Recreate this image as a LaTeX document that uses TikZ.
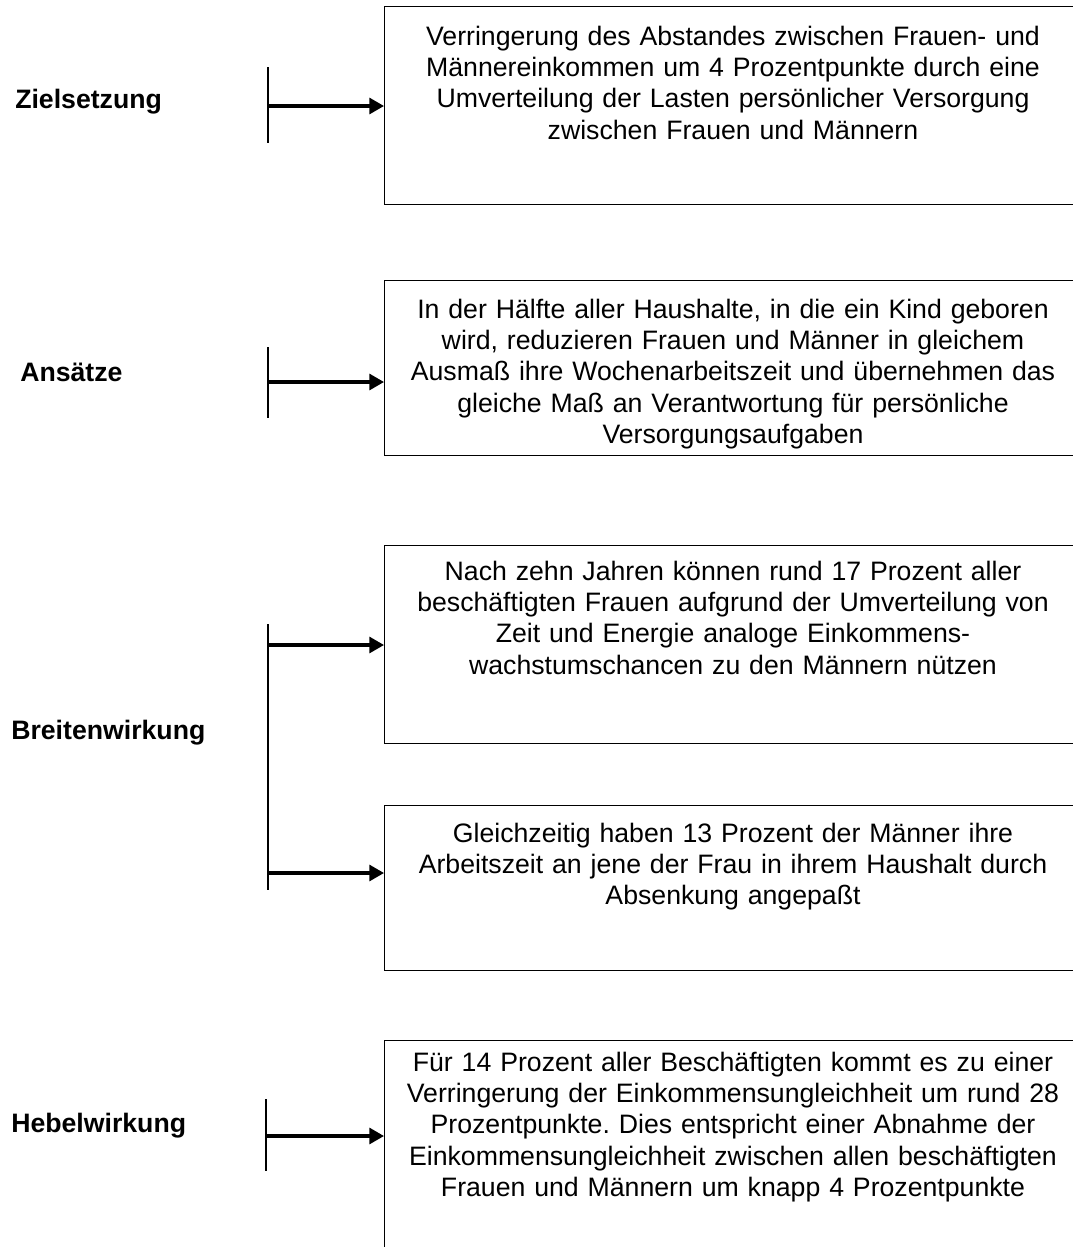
\documentclass[tikz,border=0pt]{standalone}
\usepackage{fontspec}
\setmainfont{Liberation Sans}
\usetikzlibrary{arrows.meta}
\frenchspacing
\begin{document}
\begin{tikzpicture}[x=0.75pt,y=-0.75pt,
  box/.style={draw, line width=1pt, rectangle, inner sep=0pt, anchor=north west, minimum width=530pt},
  txt/.style={align=center, text width=510pt, inner sep=0pt, anchor=base,
    font=\fontsize{20}{23.5}\selectfont},
  lbl/.style={font=\bfseries\fontsize{20}{24}\selectfont, anchor=base west, inner sep=0pt},
  tickline/.style={line width=1.3pt},
  conn/.style={line width=2.3pt, -{Triangle[length=11pt,width=12pt]}}]
\useasboundingbox (0,0) rectangle (1073,1247);
\clip (0,0) rectangle (1073,1247);

% boxes
\node[box, minimum height=148.5pt] (b1) at (384,6) {};
\node[box, minimum height=131.25pt] (b2) at (384,280) {};
\node[box, minimum height=148.5pt] (b3) at (384,545) {};
\node[box, minimum height=123.75pt] (b4) at (384,805) {};
\node[box, minimum height=200pt] (b5) at (384,1040) {};

% box texts
\node[txt] (t1) at (733,45) {Verringerung des Abstandes zwischen Frauen- und\\Männereinkommen um 4 Prozentpunkte durch eine\\Umverteilung der Lasten persönlicher Versorgung\\zwischen Frauen und Männern};
\node[txt] (t2) at (733,318) {In der Hälfte aller Haushalte, in die ein Kind geboren\\wird, reduzieren Frauen und Männer in gleichem\\Ausmaß ihre Wochenarbeitszeit und übernehmen das\\gleiche Maß an Verantwortung für persönliche\\Versorgungsaufgaben};
\node[txt] (t3) at (733,580) {Nach zehn Jahren können rund 17 Prozent aller\\beschäftigten Frauen aufgrund der Umverteilung von\\Zeit und Energie analoge Einkommens-\\wachstumschancen zu den Männern nützen};
\node[txt] (t4) at (733,842) {Gleichzeitig haben 13 Prozent der Männer ihre\\Arbeitszeit an jene der Frau in ihrem Haushalt durch\\Absenkung angepaßt};
\node[txt] (t5) at (733,1071) {Für 14 Prozent aller Beschäftigten kommt es zu einer\\Verringerung der Einkommensungleichheit um rund 28\\Prozentpunkte. Dies entspricht einer Abnahme der\\Einkommensungleichheit zwischen allen beschäftigten\\Frauen und Männern um knapp 4 Prozentpunkte};

% labels
\node[lbl] (l1) at (15,108) {Zielsetzung};
\node[lbl] (l2) at (20,381) {Ansätze};
\node[lbl] (l3) at (11,739) {Breitenwirkung};
\node[lbl] (l4) at (11,1132) {Hebelwirkung};

% ticks
\coordinate (k1a) at (268,67);  \coordinate (k1b) at (268,143); \coordinate (a1) at (268,106);
\coordinate (k2a) at (268,347); \coordinate (k2b) at (268,418); \coordinate (a2) at (268,382);
\coordinate (k3a) at (268,624); \coordinate (k3b) at (268,890);
\coordinate (a3) at (268,645);  \coordinate (a4) at (268,873);
\coordinate (k4a) at (266,1099); \coordinate (k4b) at (266,1171); \coordinate (a5) at (266,1136);

\draw[tickline] (k1a) -- (k1b);
\draw[tickline] (k2a) -- (k2b);
\draw[tickline] (k3a) -- (k3b);
\draw[tickline] (k4a) -- (k4b);

\draw[conn] (a1) -- (a1 -| b1.west);
\draw[conn] (a2) -- (a2 -| b2.west);
\draw[conn] (a3) -- (a3 -| b3.west);
\draw[conn] (a4) -- (a4 -| b4.west);
\draw[conn] (a5) -- (a5 -| b5.west);
\end{tikzpicture}
\end{document}
